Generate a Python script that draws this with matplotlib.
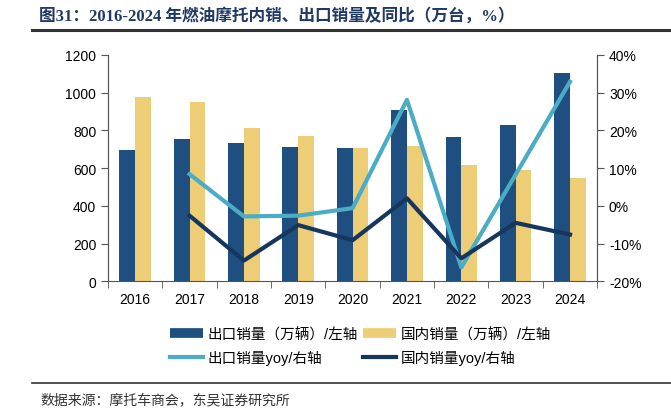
import matplotlib
matplotlib.use("Agg")
import matplotlib.pyplot as plt
import numpy as np
from matplotlib.lines import Line2D

plt.rcParams['font.family'] = ['Liberation Sans', 'Noto Sans CJK SC', 'DejaVu Sans']

years = ["2016", "2017", "2018", "2019", "2020", "2021", "2022", "2023", "2024"]
export_sales = [695, 755, 731, 713, 707, 909, 763, 830, 1102]
domestic_sales = [976, 951, 814, 771, 704, 715, 616, 590, 546]
# yoy series start in 2017
export_yoy = [8.4, -2.8, -2.6, -0.6, 28.1, -16.3, 8.3, 32.9]
domestic_yoy = [-2.6, -14.5, -5.1, -9.1, 2.0, -13.9, -4.5, -7.6]

c_export = "#1F4E80"
c_dom = "#EDCD76"
c_eyoy = "#4BACC6"
c_dyoy = "#17365D"

fig = plt.figure(figsize=(6.71, 4.14), dpi=100)
ax = fig.add_axes([0.161, 0.318, 0.729, 0.547])
ax2 = ax.twinx()

x = np.arange(len(years))
w = 0.29
ax.bar(x - w / 2, export_sales, w, color=c_export, zorder=2)
ax.bar(x + w / 2, domestic_sales, w, color=c_dom, zorder=2)

ax2.plot(x[1:], export_yoy, color=c_eyoy, lw=3)
ax2.plot(x[1:], domestic_yoy, color=c_dyoy, lw=3)

ax.set_xlim(-0.5, len(years) - 0.5)
ax.set_ylim(0, 1200)
ax.set_yticks(range(0, 1201, 200))
ax2.set_ylim(-20, 40)
ax2.set_yticks(range(-20, 41, 10))
ax2.set_yticklabels([f"{v}%" for v in range(-20, 41, 10)])

ax.set_xticks(x)
ax.set_xticklabels(years)
ax.set_xticks(np.arange(-0.5, len(years), 1), minor=True)
ax.tick_params(axis='x', which='major', length=0, labelsize=10, pad=8)
ax.tick_params(axis='x', which='minor', length=5, color="#555555")
ax.tick_params(axis='y', labelsize=10, length=5, color="#555555")
ax2.tick_params(axis='y', labelsize=10, length=5, color="#555555")

for a in (ax, ax2):
    a.spines['top'].set_visible(False)
    for s in ('left', 'right', 'bottom'):
        a.spines[s].set_color("#555555")
ax2.spines['bottom'].set_visible(False)

handles = [Line2D([], [], color=c_export, lw=7, solid_capstyle='butt'),
           Line2D([], [], color=c_dom, lw=7, solid_capstyle='butt'),
           Line2D([], [], color=c_eyoy, lw=3), Line2D([], [], color=c_dyoy, lw=3)]
labels = ["出口销量（万辆）/左轴", "国内销量（万辆）/左轴", "出口销量yoy/右轴", "国内销量yoy/右轴"]
order = [0, 2, 1, 3]
fig.legend([handles[i] for i in order], [labels[i] for i in order], ncol=2,
           loc='center', bbox_to_anchor=(0.537, 0.162), frameon=False,
           prop={'family': ['Liberation Sans', 'Noto Sans CJK SC'], 'size': 10.5},
           handlelength=2.3, columnspacing=0.3, handletextpad=0.3, labelspacing=0.6)

fig.text(0.058, 0.961, "图31：2016-2024 年燃油摩托内销、出口销量及同比（万台，%）",
         family=['Liberation Serif', 'Noto Sans CJK SC'], weight='bold',
         fontsize=12, color="#1F3864", va='center')
fig.add_artist(Line2D([0.048, 1.0], [0.925, 0.925], color="#333333", lw=2.2))
fig.add_artist(Line2D([0.048, 1.0], [0.073, 0.073], color="#333333", lw=1.2))
fig.text(0.06, 0.033, "数据来源：摩托车商会，东吴证券研究所",
         family=['Noto Sans CJK SC'], fontsize=10, color="#333333", va='center')

fig.savefig("out.png", dpi=100)
